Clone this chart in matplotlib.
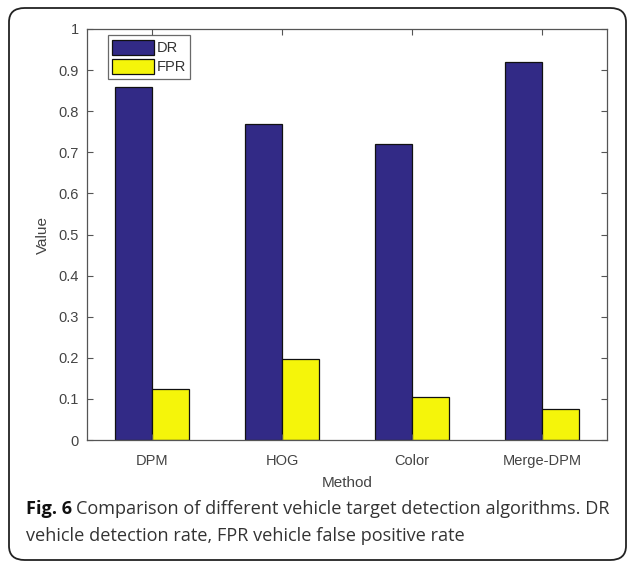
import matplotlib
matplotlib.use("Agg")
import matplotlib.pyplot as plt
import numpy as np
from matplotlib.patches import FancyBboxPatch

methods = ["DPM", "HOG", "Color", "Merge-DPM"]
dr = [0.86, 0.77, 0.72, 0.92]
fpr = [0.123, 0.198, 0.105, 0.075]
yticks = [0, 0.1, 0.2, 0.3, 0.4, 0.5, 0.6, 0.7, 0.8, 0.9, 1]
ytick_labels = ["0", "0.1", "0.2", "0.3", "0.4", "0.5", "0.6", "0.7", "0.8", "0.9", "1"]

plt.rcParams["font.family"] = ["Liberation Sans", "DejaVu Sans"]

W, H = 627, 563
fig = plt.figure(figsize=(W / 100, H / 100), dpi=100)
fig.patch.set_facecolor("white")

# rounded frame
frame = FancyBboxPatch((9 / W, 1 - 560 / H), (626 - 9) / W, (560 - 8) / H,
                       boxstyle="round,pad=0,rounding_size=0.025",
                       transform=fig.transFigure, fill=False,
                       edgecolor="#222222", linewidth=1.3, clip_on=False)
fig.patches.append(frame)

ax_l, ax_r, ax_t, ax_b = 87, 607, 29, 440
ax = fig.add_axes([ax_l / W, 1 - ax_b / H, (ax_r - ax_l) / W, (ax_b - ax_t) / H])

x = np.arange(1, len(methods) + 1)
bw = 0.286
dr_col = "#322A86"
fpr_col = "#F5F50A"
ax.bar(x - bw / 2, dr, bw, color=dr_col, edgecolor="#111111", linewidth=0.9, label="DR")
ax.bar(x + bw / 2, fpr, bw, color=fpr_col, edgecolor="#111111", linewidth=0.9, label="FPR")

ax.set_xlim(0.5, 4.5)
ax.set_ylim(0, 1)
ax.set_xticks(x)
ax.set_xticklabels(methods)
ax.set_yticks(yticks)
ax.set_yticklabels(ytick_labels)

txt_col = "#444444"
ax.tick_params(axis="both", direction="in", length=4, width=0.8, color="#555555",
               labelsize=10.5, labelcolor=txt_col, top=True, right=True)
ax.tick_params(axis="x", pad=10)
ax.tick_params(axis="y", pad=6)
for s in ax.spines.values():
    s.set_color("#555555")
    s.set_linewidth(0.9)

ax.set_ylabel("Value", fontsize=11, color=txt_col, labelpad=6)
ax.set_xlabel("Method", fontsize=11, color=txt_col, labelpad=6)

leg = ax.legend(loc="upper left", bbox_to_anchor=(0.04, 0.985), fontsize=10.5,
                frameon=True, fancybox=False, borderpad=0.3, labelspacing=0.25,
                handlelength=2.9, handleheight=1.25, handletextpad=0.15,
                borderaxespad=0.0)
leg.get_frame().set_edgecolor("#444444")
leg.get_frame().set_linewidth(0.9)
for t in leg.get_texts():
    t.set_color("#333333")

cap_font = ["Open Sans", "DejaVu Sans"]
cap_size = 13.1
x0 = 26
y1 = 1 - 514 / H
y2 = 1 - 541 / H
tb = fig.text(x0 / W, y1, "Fig. 6", fontsize=cap_size, ha="left", va="baseline",
              color="#111111", family=cap_font, weight="bold")
fig.canvas.draw()
bb = tb.get_window_extent()
x_after = (bb.x1 + 4) / W
fig.text(x_after, y1,
         "Comparison of different vehicle target detection algorithms. DR",
         fontsize=cap_size, ha="left", va="baseline", color="#333333",
         family=cap_font)
fig.text(x0 / W, y2, "vehicle detection rate, FPR vehicle false positive rate",
         fontsize=cap_size, ha="left", va="baseline", color="#333333",
         family=cap_font)

fig.savefig("out.png", dpi=100, facecolor="white")
